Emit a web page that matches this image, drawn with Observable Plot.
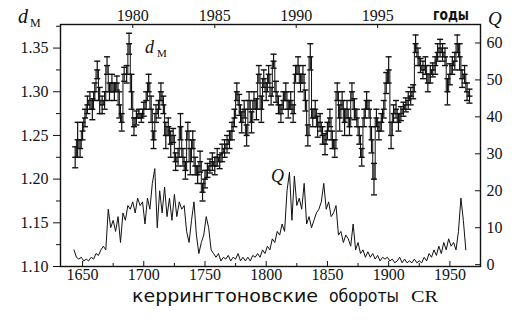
<!DOCTYPE html>
<html><head><meta charset="utf-8">
<script src="https://cdn.jsdelivr.net/npm/d3@7"></script>
<script src="https://cdn.jsdelivr.net/npm/@observablehq/plot@0.6"></script>
<style>
body{margin:0;background:#fff;}
#wrap{position:relative;width:516px;height:320px;background:#fff;}
#wrap svg{position:absolute;left:0;top:0;}
</style></head><body><div id="wrap"></div>
<script>
// d_M: Carrington rotations 1644..1966 every 2 rotations
const dmCR = d3.range(1644, 1967, 2);
const dmVal = [
 1.225,1.245,1.235,1.255,1.27,1.285,1.29,1.28,1.30,1.325,
 1.29,1.285,1.29,1.33,1.30,1.31,1.30,1.31,1.285,1.265,
 1.32,1.32,1.355,1.30,1.26,1.27,1.275,1.27,1.28,1.29,
 1.31,1.28,1.245,1.275,1.28,1.30,1.285,1.25,1.26,1.24,
 1.25,1.22,1.225,1.26,1.225,1.21,1.255,1.22,1.245,1.215,
 1.205,1.22,1.185,1.20,1.21,1.215,1.22,1.215,1.225,1.22,
 1.23,1.235,1.24,1.245,1.255,1.27,1.30,1.285,1.265,1.28,
 1.25,1.29,1.265,1.29,1.28,1.32,1.28,1.315,1.30,1.32,
 1.295,1.335,1.30,1.285,1.275,1.29,1.30,1.28,1.29,1.275,
 1.32,1.33,1.31,1.32,1.29,1.25,1.34,1.27,1.28,1.26,
 1.265,1.25,1.24,1.255,1.27,1.245,1.235,1.30,1.27,1.29,
 1.265,1.28,1.26,1.30,1.28,1.27,1.25,1.225,1.27,1.29,
 1.28,1.245,1.20,1.27,1.255,1.265,1.28,1.31,1.325,1.25,
 1.275,1.28,1.265,1.275,1.28,1.285,1.29,1.295,1.30,1.355,
 1.34,1.33,1.325,1.33,1.31,1.32,1.325,1.33,1.345,1.35,
 1.345,1.34,1.30,1.32,1.33,1.335,1.355,1.34,1.315,1.32,
 1.30,1.295];
const dmErr = [
 .012,.02,.01,.01,.01,.01,.01,.012,.01,.01,
 .015,.01,.01,.01,.01,.01,.01,.008,.015,.01,
 .008,.01,.012,.02,.01,.008,.005,.005,.008,.01,
 .01,.015,.01,.01,.01,.01,.01,.015,.01,.015,
 .008,.01,.01,.015,.01,.01,.01,.015,.01,.01,
 .01,.012,.01,.01,.008,.008,.01,.01,.01,.008,
 .01,.01,.01,.01,.01,.01,.01,.012,.012,.01,
 .012,.01,.012,.01,.012,.01,.015,.01,.01,.01,
 .01,.008,.012,.01,.01,.01,.01,.01,.01,.01,
 .01,.01,.01,.01,.012,.012,.015,.01,.01,.012,
 .01,.01,.012,.01,.01,.01,.01,.01,.015,.01,
 .015,.01,.01,.01,.012,.01,.01,.01,.01,.01,
 .01,.015,.018,.01,.01,.01,.01,.012,.015,.015,
 .01,.01,.01,.008,.008,.008,.01,.01,.008,.01,
 .01,.008,.01,.01,.01,.01,.008,.01,.01,.01,
 .01,.01,.015,.012,.01,.01,.01,.015,.01,.01,
 .01,.008];
// Q: rotations 1643..1963 every 2 rotations
const qCR = d3.range(1643, 1964, 2);
const qVal = [
 4,2,1.5,2,1,1.5,1,2,1.5,3,
 2.5,4,5,4,15,10,12,9,13,6,
 14,12,16,15,17,14,18,16,17,11,
 18,15,22,26,10,20,14,21,13,18,
 12,19,13,17,15,16,9,6,12,17,
 8,3,6,8,13,10,4,3,2,3,
 1,2,1.5,2.5,1,2,1.5,3,1,2,
 1,2,1,2.5,2,3,2,4,3,5,
 4,7,6,9,8,11,9,20,25,12,
 24,16,18,15,22,11,13,10,12,14,
 15,17,22,15,17,13,14,16,8,9,
 6,8,7,5,11,4,6,3,4,2,
 3.5,2,3,1.5,2.5,1,2,1.5,2,1,
 1.5,0.5,1,2,0.5,1.5,0.5,1,0.5,1.5,
 0.5,1,0.5,2,1,3,2,4,2.5,5,
 3,6,4,7,5,6,4,9,18,12,
 4];
const xTicks = [1650,1700,1750,1800,1850,1900,1950];
const xMinor = [1675,1725,1775,1825,1875,1925];
const yearLabels = ["1980","1985","1990","1995"];
const yearCR = [1691,1758,1824.5,1891];
const dTicks = [1.10,1.15,1.20,1.25,1.30,1.35];
const dMinor = [1.125,1.175,1.225,1.275,1.325,1.375];
const qTicks = [0,10,20,30,40,50,60];

const W = 516, H = 320;
const mT = 24, mR = 36, mB = 54, mL = 60;
const PW = W - mL - mR, PH = H - mT - mB;
const margins = {marginTop:mT, marginRight:mR, marginBottom:mB, marginLeft:mL};
const xDomain = [1632, 1975];
const ink = "#111";
const serif = "'Liberation Serif','Times New Roman',serif";

const dm = dmCR.map((c,i)=>({cr:c, v:dmVal[i], lo:dmVal[i]-dmErr[i], hi:dmVal[i]+dmErr[i]}));
const q = qCR.map((c,i)=>({cr:c, q:qVal[i]}));
const cap = {draw(ctx, size){ const r = Math.sqrt(size)/2; ctx.moveTo(-r,0); ctx.lineTo(r,0); }};

const chartA = Plot.plot({
  width:W, height:H, ...margins,
  style:{fontFamily:serif, fontSize:"16px", color:ink, background:"transparent"},
  x:{domain:xDomain, label:null},
  y:{domain:[1.10,1.377], label:null},
  marks:[
    Plot.line(dm, {x:"cr", y:"v", curve:"step", stroke:ink, strokeWidth:1}),
    Plot.ruleX(dm, {x:"cr", y1:"lo", y2:"hi", stroke:ink, strokeWidth:1.2}),
    Plot.dot(dm, {x:"cr", y:"lo", symbol:cap, r:3.4, stroke:ink, strokeWidth:1.4}),
    Plot.dot(dm, {x:"cr", y:"hi", symbol:cap, r:3.4, stroke:ink, strokeWidth:1.4}),
    Plot.dot(dm, {x:"cr", y:"v", symbol:cap, r:3.4, stroke:ink, strokeWidth:1.4}),
    Plot.frame({stroke:ink, strokeWidth:1.4}),
    Plot.axisY({ticks:dTicks, tickFormat:d3.format(".2f"), tickSize:7, tickPadding:5, label:null, fontSize:16}),
    Plot.tickY(dMinor, {y:d=>d, insetRight:PW-4, dx:-4, stroke:ink}),
    Plot.axisX({ticks:xTicks, tickFormat:d3.format("d"), tickSize:0, tickPadding:2, label:null, fontSize:16}),
    Plot.tickX(xTicks, {x:d=>d, insetTop:PH-5, stroke:ink}),
    Plot.tickX(xMinor, {x:d=>d, insetTop:PH-3, stroke:ink}),
    Plot.axisX({anchor:"top", ticks:yearCR, tickFormat:d=>yearLabels[yearCR.indexOf(d)], tickSize:0, tickPadding:4, label:null, fontSize:16}),
    Plot.tickX(yearCR, {x:d=>d, insetBottom:PH-4, stroke:ink})
  ]
});

const chartB = Plot.plot({
  width:W, height:H, ...margins,
  style:{fontFamily:serif, fontSize:"16px", color:ink, background:"transparent"},
  x:{domain:xDomain, axis:null},
  y:{domain:[-0.5,65], label:null},
  marks:[
    Plot.line(q, {x:"cr", y:"q", stroke:ink, strokeWidth:1}),
    Plot.axisY({anchor:"right", ticks:qTicks, tickSize:0, tickPadding:6, label:null, fontSize:16}),
    Plot.tickY(qTicks, {y:d=>d, insetLeft:PW-5, stroke:ink})
  ]
});

const wrap = document.getElementById("wrap");
wrap.appendChild(chartA);
wrap.appendChild(chartB);

// annotations
const ann = d3.create("svg").attr("width",W).attr("height",H)
  .style("font-family", serif).attr("fill", ink);
function t(str, x, y, size, opts={}){
  const e = ann.append("text").attr("x",x).attr("y",y).attr("font-size",size).text(str);
  if (opts.italic) e.attr("font-style","italic");
  if (opts.family) e.attr("font-family", opts.family);
  if (opts.weight) e.attr("font-weight", opts.weight);
  if (opts.len) e.attr("textLength", opts.len).attr("lengthAdjust","spacingAndGlyphs");
  return e;
}
t("d", 18, 23, 20, {italic:true});
t("M", 30, 27, 12);
t("Q", 488, 25, 19, {italic:true});
t("годы", 433, 20, 15, {family:"'DejaVu Sans',sans-serif", weight:"bold", len:36});
t("d", 145, 53, 18, {italic:true});
t("M", 157, 57, 11);
t("Q", 271, 182, 18, {italic:true});
t("керрингтоновские", 132, 302, 17, {family:"'DejaVu Sans',sans-serif", len:186});
t("обороты", 329, 302, 17, {family:"'DejaVu Sans',sans-serif", len:70});
t("CR", 411, 302, 17, {len:27});
wrap.appendChild(ann.node());
</script></body></html>
